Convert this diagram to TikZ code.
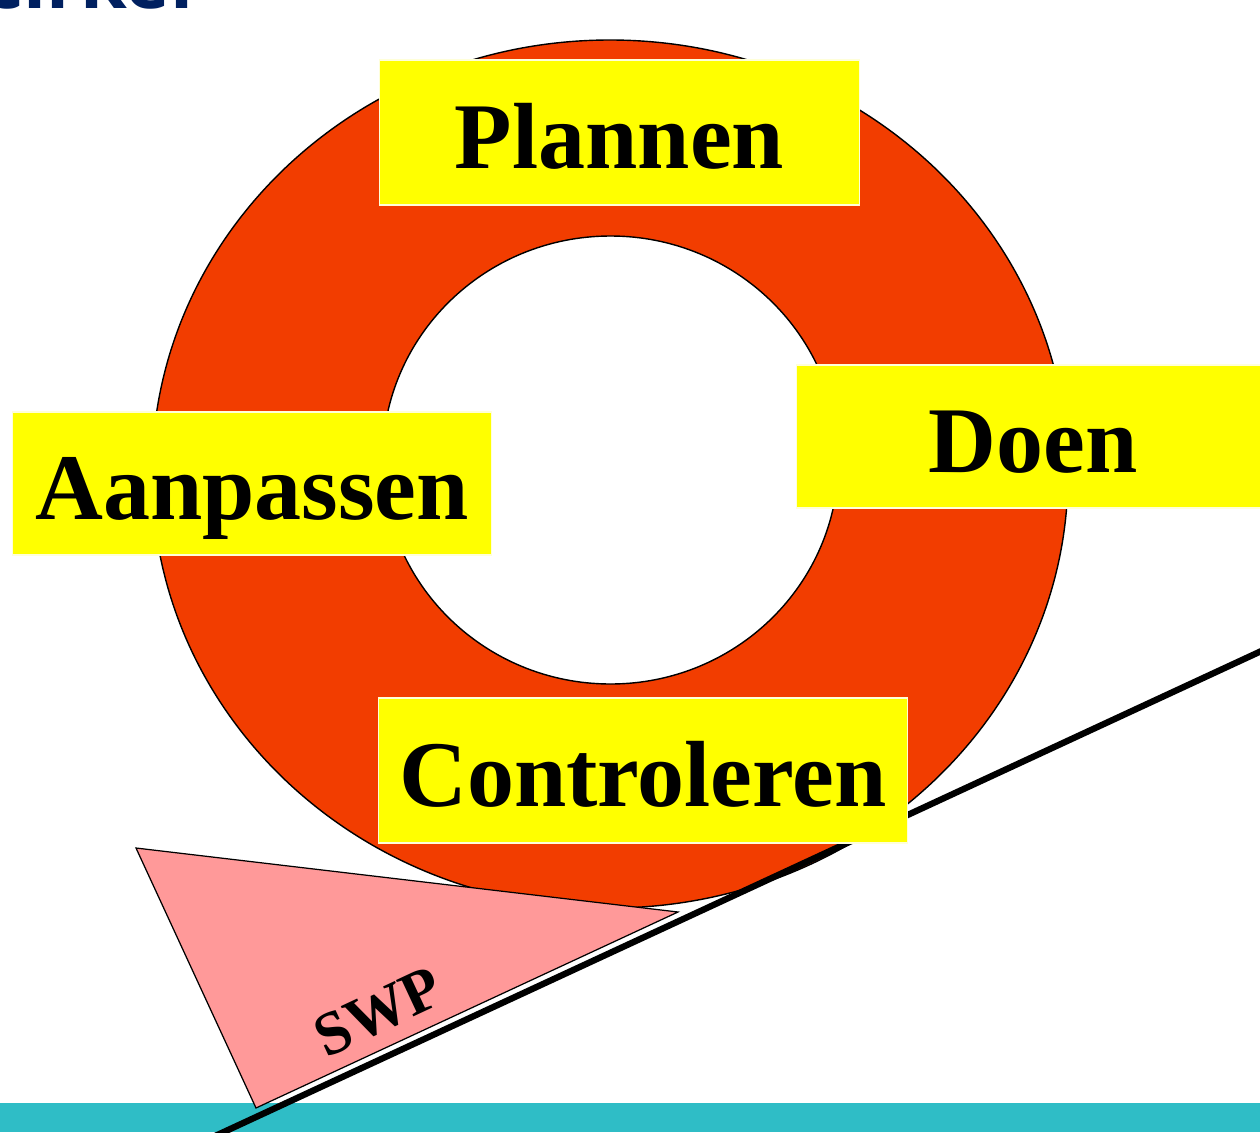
\documentclass[tikz,border=0pt]{standalone}
\usepackage{fontspec}
\setmainfont{Liberation Serif}
\newfontfamily\titelfont{Open Sans}
\definecolor{ringrood}{RGB}{242,61,0}
\definecolor{geel}{RGB}{255,255,0}
\definecolor{wigroze}{RGB}{255,153,153}
\definecolor{balk}{RGB}{47,189,198}
\definecolor{titelblauw}{RGB}{0,32,96}
\begin{document}
\begin{tikzpicture}[thick,x=0.02cm,y=-0.02cm,
	fase/.style={fill=geel,draw=geel!15,line width=0.6pt,inner sep=0pt,text height=41pt,text depth=0pt,font=\fontsize{53.5}{60}\selectfont\bfseries}]
		\useasboundingbox (0,0) rectangle (1260,1132);
		\begin{scope}
		\clip (0,0) rectangle (1260,1132);
		\fill[balk] (0,1103) rectangle (1260,1132);
		\node[anchor=base east,text=titelblauw,font=\titelfont\bfseries\fontsize{43}{48}\selectfont] (titel) at (200,9) {Demingcirkel};
		% ring
		\fill[ringrood,even odd rule] (610,474) ellipse[x radius=458,y radius=434] (610.5,460) ellipse[x radius=228,y radius=224];
		\draw[line width=0.8pt] (610,474) ellipse[x radius=458,y radius=434];
		\draw[line width=0.8pt] (610.5,460) ellipse[x radius=228,y radius=224];
		% helling en wig
		\coordinate (hellingA) at (200,1143);
		\coordinate (hellingB) at (1270,647);
		\draw[line width=3.6pt] (hellingA)--(hellingB);
		\draw[line width=0.7pt,fill=wigroze] (136,848)--(678,912)--(256,1108)--cycle;
		\node[rotate=25,font=\fontsize{35}{40}\selectfont\bfseries] (swp) at (378,1012) {SWP};
		% fasen
		\node[fase,minimum width=9.62cm,minimum height=2.9cm] (plannen) at (619.5,132.5) {Plannen};
		\node[fase,minimum width=9.48cm,minimum height=2.86cm] (doen) at (1033,436.5) {Doen};
		\node[fase,minimum width=9.6cm,minimum height=2.86cm] (aanpassen) at (252,483.5) {Aanpassen};
		\node[fase,minimum width=10.6cm,minimum height=2.9cm] (controleren) at (643,770.5) {Controleren};
		\end{scope}
	\end{tikzpicture}
\end{document}
